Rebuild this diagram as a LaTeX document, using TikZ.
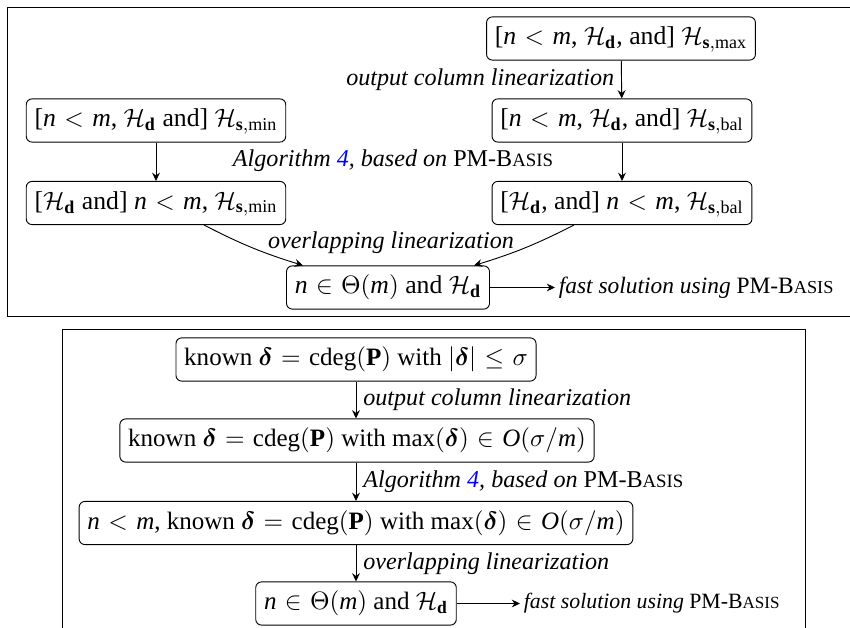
\documentclass[tikz,border=0pt]{standalone}
\usepackage{amsmath}
\usepackage{fontspec}
\setmainfont{Liberation Serif}
\usetikzlibrary{calc,arrows.meta}
\makeatletter
\newcommand{\fakesc}[1]{{\fontsize{\strip@pt\dimexpr0.78\dimexpr\f@size pt\relax\relax}{0}\selectfont #1}}
\makeatother
\newcommand{\pmbasis}{PM-B\fakesc{ASIS}}
\newcommand{\Hd}{\mathcal{H}_{\mathbf{d}}}
\newcommand{\Hs}[1]{\mathcal{H}_{\mathbf{s},\mathrm{#1}}}
\newcommand{\bdelta}{\boldsymbol{\delta}}
\newcommand{\vn}{\mathit{n}}
\newcommand{\vm}{\mathit{m}}
\thickmuskip=6mu plus 5mu
\tikzset{
  st/.style={draw, rounded corners=2.5pt, inner xsep=3.6pt, inner ysep=3.9pt,
    text height=8.2pt, text depth=2.8pt},
  sttop/.style={st, font=\fontsize{11.2}{13}\selectfont},
  stbot/.style={st, font=\fontsize{10.9}{13}\selectfont},
  lab/.style={font=\fontsize{10.5}{12}\selectfont\itshape, inner sep=1pt},
  outtop/.style={font=\fontsize{10.2}{12}\selectfont\itshape, inner sep=1.5pt},
  outbot/.style={font=\fontsize{9.5}{12}\selectfont\itshape, inner sep=1.5pt},
  arr/.style={-{Stealth[length=3.6pt, width=3.4pt, inset=1.2pt]}},
}
\begin{document}
\begin{tikzpicture}[x=0.4355pt, y=-0.4355pt]
\useasboundingbox (0,0) rectangle (850,628);
% frames
\draw (850,7) -- (7,7) -- (7,316) -- (850,316);
\draw (62,628) -- (62,329) -- (805,329) -- (805,628);
% top figure
\node[sttop] (A) at (621,38.5) {[$\vn<\vm$, $\Hd$, and] $\Hs{max}$};
\node[sttop] (B) at (622,120.5) {[$\vn<\vm$, $\Hd$, and] $\Hs{bal}$};
\node[sttop] (C) at (622,203) {[$\Hd$, and] $\vn<\vm$, $\Hs{bal}$};
\node[sttop] (L1) at (156,120.5) {[$\vn<\vm$, $\Hd$ and] $\Hs{min}$};
\node[sttop] (L2) at (156,203) {[$\Hd$ and] $\vn<\vm$, $\Hs{min}$};
\node[sttop] (D) at (388,287.5) {$\vn\in\Theta(\vm)$ and $\Hd$};
\node[outtop, anchor=west] (Dout) at (555,287.5) {fast solution using \upshape\pmbasis};
\draw[arr] (A) -- node[lab, left=2pt] (lab1) {output column linearization} (B);
\draw[arr] (B) -- (C);
\draw[arr] (L1) -- (L2);
\node[lab] (lab2) at (393,161) {Algorithm \textcolor{blue}{4}, based on \upshape\pmbasis};
\node[lab] (lab3) at (391,243) {overlapping linearization};
\draw[arr] ($(L2.south)+(48,0)$) to[bend right=5] ($(D.north)+(-85,0)$);
\draw[arr] ($(C.south)+(-48,0)$) to[bend left=5] ($(D.north)+(86,0)$);
\draw[arr] (D) -- (Dout);
% bottom figure
\node[stbot] (E) at (356,359.5) {known $\bdelta=\operatorname{cdeg}(\mathbf{P})$ with $|\bdelta|\le\sigma$};
\node[stbot] (F) at (357,440.5) {known $\bdelta=\operatorname{cdeg}(\mathbf{P})$ with $\max(\bdelta)\in \mathit{O}(\sigma/\vm)$};
\node[stbot] (G) at (356,523) {$\vn<\vm$, known $\bdelta=\operatorname{cdeg}(\mathbf{P})$ with $\max(\bdelta)\in \mathit{O}(\sigma/\vm)$};
\node[stbot] (H) at (356,603.5) {$\vn\in\Theta(\vm)$ and $\Hd$};
\node[outbot, anchor=west] (Hout) at (520,603.5) {fast solution using \upshape\pmbasis};
\draw[arr] (E.south -| H.north) -- node[lab, right=2pt] {output column linearization} (F.north -| H.north);
\draw[arr] (F.south -| H.north) -- node[lab, right=2pt] {Algorithm \textcolor{blue}{4}, based on \upshape\pmbasis} (G.north -| H.north);
\draw[arr] (G.south -| H.north) -- node[lab, right=2pt] {overlapping linearization} (H.north);
\draw[arr] (H) -- (Hout);
\end{tikzpicture}
\end{document}
